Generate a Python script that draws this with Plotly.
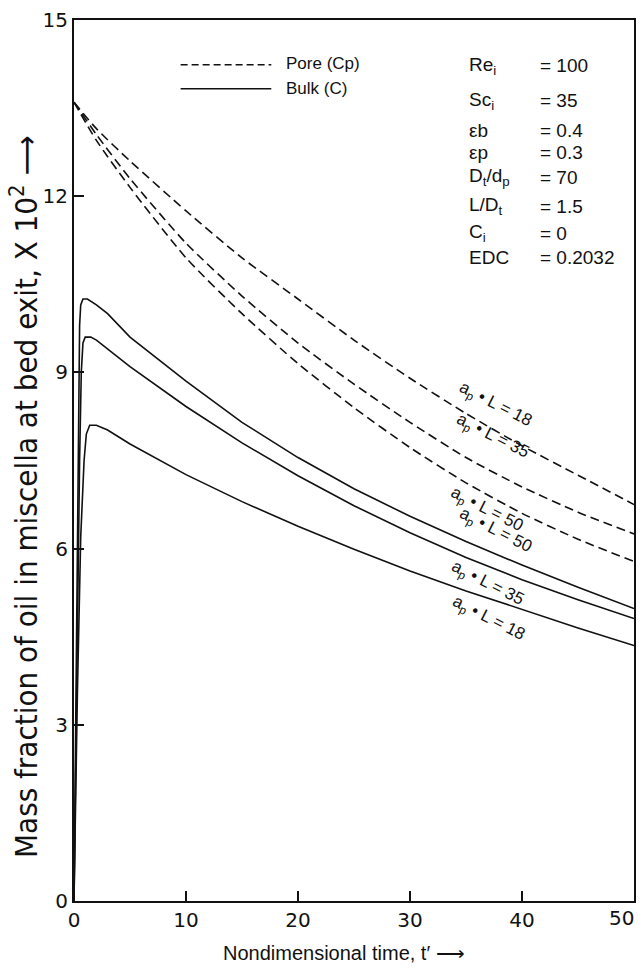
import plotly.graph_objects as go

# ---------------- data ----------------
t_pore = [0, 2, 5, 10, 15, 20, 25, 30, 35, 40, 45, 50]
pore_18 = [13.6, 13.15, 12.6, 11.75, 10.95, 10.25, 9.55, 8.9, 8.3, 7.75, 7.25, 6.75]
pore_35 = [13.6, 13.05, 12.3, 11.2, 10.3, 9.5, 8.8, 8.15, 7.55, 7.05, 6.62, 6.25]
pore_50 = [13.6, 12.95, 12.15, 10.95, 10.0, 9.15, 8.4, 7.72, 7.12, 6.6, 6.16, 5.78]

t_bulk_50 = [0, 0.2, 0.4, 0.5, 0.6, 0.8, 1.2, 2, 3, 5, 10, 15, 20, 25, 30, 35, 40, 45, 50]
bulk_50 = [0, 4.5, 8.5, 9.8, 10.15, 10.25, 10.25, 10.15, 10.0, 9.6, 8.85, 8.15, 7.55, 7.02, 6.55, 6.12, 5.72, 5.34, 4.98]
t_bulk_35 = [0, 0.25, 0.5, 0.65, 0.8, 1.0, 1.5, 2, 3, 5, 10, 15, 20, 25, 30, 35, 40, 45, 50]
bulk_35 = [0, 4.0, 7.5, 9.0, 9.5, 9.6, 9.6, 9.55, 9.4, 9.1, 8.42, 7.8, 7.24, 6.73, 6.27, 5.85, 5.47, 5.13, 4.81]
t_bulk_18 = [0, 0.3, 0.6, 0.9, 1.1, 1.4, 2, 3, 5, 10, 15, 20, 25, 30, 35, 40, 45, 50]
bulk_18 = [0, 3.5, 6.2, 7.5, 7.95, 8.1, 8.1, 8.02, 7.78, 7.26, 6.8, 6.38, 5.99, 5.62, 5.28, 4.96, 4.65, 4.35]

x_ticks = [0, 10, 20, 30, 40, 50]
y_ticks = [0, 3, 6, 9, 12, 15]

param_names = ["Re<sub>i</sub>", "Sc<sub>i</sub>", "\u03b5b", "\u03b5p",
               "D<sub>t</sub>/d<sub>p</sub>", "L/D<sub>t</sub>", "C<sub>i</sub>", "EDC"]
param_values = ["= 100", "= 35", "= 0.4", "= 0.3", "= 70", "= 1.5", "= 0", "= 0.2032"]

curve_labels = ["18", "35", "50", "50", "35", "18"]
label_t = [37.6, 37.4, 36.8, 37.6, 36.9, 37.0]
label_v = [8.45, 7.9, 6.65, 6.3, 5.4, 4.8]

# ---------------- figure ----------------
W, H = 644, 971
ML, MR, MT, MB = 74, 8, 16, 70
PW, PH = W - ML - MR, H - MT - MB


def px(x):
    return (x - ML) / PW


def py(y):
    return (H - MB - y) / PH


BLACK = "#111111"
DASH = "9px,5px"

fig = go.Figure()
for y in (pore_18, pore_35, pore_50):
    fig.add_trace(go.Scatter(x=t_pore, y=y, mode="lines",
                             line=dict(color=BLACK, width=1.6, dash=DASH, shape="spline", smoothing=0.6),
                             showlegend=False, hoverinfo="skip"))
for xs, y in ((t_bulk_50, bulk_50), (t_bulk_35, bulk_35), (t_bulk_18, bulk_18)):
    fig.add_trace(go.Scatter(x=xs, y=y, mode="lines",
                             line=dict(color=BLACK, width=1.6),
                             showlegend=False, hoverinfo="skip"))

tick_font = dict(family="DejaVu Sans", size=20, color=BLACK)
# last x tick label is drawn shifted left so it ends at the axis end (as in the reference)
x_ticktext = [str(v) for v in x_ticks[:-1]] + [""]
fig.update_xaxes(range=[0, 50], tickvals=x_ticks, ticktext=x_ticktext,
                 ticks="inside", ticklen=10, tickwidth=1.5, tickcolor=BLACK,
                 showline=True, linecolor=BLACK, linewidth=2, mirror=True,
                 showgrid=False, zeroline=False, tickfont=tick_font)
fig.update_yaxes(range=[0, 15], tickvals=y_ticks, ticktext=[str(v) for v in y_ticks],
                 ticks="inside", ticklen=10, tickwidth=1.5, tickcolor=BLACK,
                 showline=True, linecolor=BLACK, linewidth=2, mirror=True,
                 showgrid=False, zeroline=False, tickfont=tick_font)

annotations = []
shapes = []

annotations.append(dict(xref="x", yref="paper", x=x_ticks[-1], y=py(918), text=str(x_ticks[-1]),
                        showarrow=False, xanchor="center", xshift=-13, yanchor="middle",
                        font=tick_font))

# legend (drawn manually)
shapes.append(dict(type="line", xref="paper", yref="paper", x0=px(181), x1=px(272),
                   y0=py(61), y1=py(61), line=dict(color=BLACK, width=1.4, dash="7px,4px")))
shapes.append(dict(type="line", xref="paper", yref="paper", x0=px(181), x1=px(272),
                   y0=py(85), y1=py(85), line=dict(color=BLACK, width=1.4)))
leg_font = dict(family="Liberation Sans", size=17, color=BLACK)
annotations.append(dict(xref="paper", yref="paper", x=px(285), y=py(60), text="Pore (Cp)",
                        showarrow=False, xanchor="left", yanchor="middle", font=leg_font))
annotations.append(dict(xref="paper", yref="paper", x=px(285), y=py(85), text="Bulk (C)",
                        showarrow=False, xanchor="left", yanchor="middle", font=leg_font))

# parameter block
par_font = dict(family="Liberation Sans", size=19, color=BLACK)
row_y = [62, 97, 127, 149, 174, 203, 230, 255]
for name, val, ry in zip(param_names, param_values, row_y):
    annotations.append(dict(xref="paper", yref="paper", x=px(468), y=py(ry), text=name,
                            showarrow=False, xanchor="left", yanchor="middle", font=par_font))
    annotations.append(dict(xref="paper", yref="paper", x=px(540), y=py(ry), text=val,
                            showarrow=False, xanchor="left", yanchor="middle", font=par_font))

# curve labels
for lab, lt, lv in zip(curve_labels, label_t, label_v):
    annotations.append(dict(x=lt, y=lv, xref="x", yref="y",
                            text="a<sub>p</sub> \u2022 L = " + lab,
                            showarrow=False, textangle=27,
                            font=dict(family="Liberation Sans", size=17, color=BLACK)))

# axis titles
annotations.append(dict(xref="paper", yref="paper", x=px(24), y=py(495),
                        text="Mass fraction of oil in miscella at bed exit, X 10<sup>2</sup> \u27f6",
                        textangle=-90, showarrow=False, xanchor="center", yanchor="middle",
                        font=dict(family="Liberation Sans Narrow, DejaVu Sans Condensed, Liberation Sans, sans-serif",
                                  size=31, color=BLACK)))
annotations.append(dict(xref="paper", yref="paper", x=px(345), y=py(953),
                        text="Nondimensional time, t\u2032 \u27f6",
                        showarrow=False, xanchor="center", yanchor="middle",
                        font=dict(family="Liberation Sans", size=20, color=BLACK)))

fig.update_layout(width=W, height=H, margin=dict(l=ML, r=MR, t=MT, b=MB),
                  plot_bgcolor="white", paper_bgcolor="white",
                  annotations=annotations, shapes=shapes, showlegend=False)

# remove the default page margin so the figure sits flush in the window
fig.write_html("out.html", config={"displayModeBar": False},
               post_script="document.body.style.margin='0';document.body.style.overflow='hidden';")
